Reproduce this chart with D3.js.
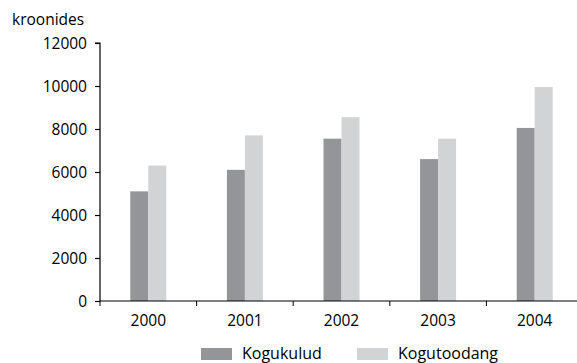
<!DOCTYPE html>
<html>
<head>
<meta charset="utf-8">
<script src="https://cdn.jsdelivr.net/npm/d3@7"></script>
<style>
  body { margin: 0; background: #fff; }
  text { font-family: "Open Sans", sans-serif; }
</style>
</head>
<body>
<div id="chart"></div>
<script>
//data
const years = ["2000", "2001", "2002", "2003", "2004"];
const kogukulud = [5100, 6100, 7550, 6600, 8050];
const kogutoodang = [6300, 7700, 8550, 7550, 9950];
const seriesNames = ["Kogukulud", "Kogutoodang"];
const yTicks = [0, 2000, 4000, 6000, 8000, 10000, 12000];

const W = 577, H = 363;
const colors = ["#939598", "#d1d3d4"];
const fs = 15.5;

let svg = d3.select("#chart").append("svg")
    .attr("width", W)
    .attr("height", H);

//plot area
const x0 = 100, x1 = 583, yTop = 43, yBot = 301;

let scaleX = d3.scaleBand().domain(years).range([x0, x1]);
let scaleY = d3.scaleLinear().domain([0, 12000]).range([yBot, yTop]);
const barW = 18;

let series = [kogukulud, kogutoodang];
series.forEach(function(vals, s) {
    svg.append("g").selectAll("rect")
        .data(vals)
        .enter().append("rect")
        .attr("x", (d, i) => scaleX(years[i]) + scaleX.bandwidth() / 2 - barW + s * barW)
        .attr("y", d => scaleY(d))
        .attr("width", barW)
        .attr("height", d => yBot - scaleY(d))
        .attr("fill", colors[s]);
});

//y axis
let axisY = d3.axisLeft(scaleY).tickValues(yTicks).tickSize(5).tickPadding(8).tickFormat(d3.format("d"));
let gy = svg.append("g").attr("transform", `translate(${x0},0)`).call(axisY);
gy.select(".domain").attr("d", `M-5,${yTop}H0V${yBot}`);

//x axis: ticks between categories
let gx = svg.append("g").attr("transform", `translate(0,${yBot})`);
gx.append("line").attr("x1", x0).attr("x2", x1).attr("stroke", "#000").attr("stroke-width", 1.2);
gx.selectAll(".tk").data(years).enter().append("line")
    .attr("x1", d => scaleX(d)).attr("x2", d => scaleX(d))
    .attr("y1", 0).attr("y2", 5).attr("stroke", "#000");
gx.selectAll(".lbl").data(years).enter().append("text")
    .attr("x", d => scaleX(d) + scaleX.bandwidth() / 2)
    .attr("y", 24.5)
    .attr("text-anchor", "middle")
    .attr("font-size", fs)
    .text(d => d);

svg.selectAll(".tick text").attr("font-size", fs).attr("fill", "#000")
    .attr("dy", "0.35em")
    .style("font-family", "'Open Sans', sans-serif");
svg.selectAll(".domain, .tick line").attr("stroke", "#000").attr("stroke-width", 1.2);

//unit label
svg.append("text").attr("x", 12).attr("y", 25).attr("font-size", fs).text("kroonides");

//legend
const legX = [201, 357];
seriesNames.forEach(function(name, i) {
    svg.append("rect").attr("x", legX[i]).attr("y", 348).attr("width", 31).attr("height", 12).attr("fill", colors[i]);
    svg.append("text").attr("x", legX[i] + 41).attr("y", 359).attr("font-size", 16).text(name);
});
</script>
</body>
</html>
